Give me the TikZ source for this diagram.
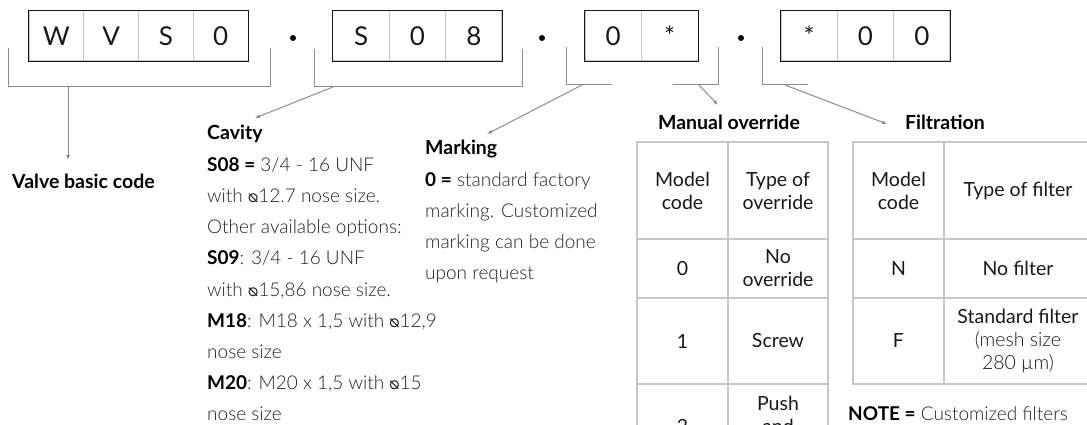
\documentclass[tikz,border=0pt]{standalone}
\usepackage{fontspec}
\usepackage{graphicx}
\setmainfont{Lato}[UprightFont=* Light, BoldFont=* Bold]
\newfontfamily\regfont{Lato}
\newfontfamily\symfont{DejaVu Sans}
\usetikzlibrary{arrows.meta,positioning}

\definecolor{bodygray}{HTML}{222222}
\definecolor{linegray}{HTML}{8C8C8C}
\definecolor{gridgray}{HTML}{C6C6C6}

\newcommand{\keyw}[1]{\textcolor{black}{\textbf{#1}}}
\newcommand{\dia}{{\symfont\scalebox{0.9}{\reflectbox{⌀}}}}
\newcommand{\lowstar}{\raisebox{-5pt}{*}}

\tikzset{
    code cell/.style={draw=gridgray, line width=1pt, minimum height=50pt, minimum width=#1, inner sep=0pt, text=black!90, font=\regfont\fontsize{26}{30}\selectfont},
    code cell/.default=55pt,
    code frame/.style={draw=black!90, line width=1.3pt},
    sep dot/.style={circle, fill=black, inner sep=0pt, minimum size=6pt},
    bracket/.style={draw=linegray, line width=1pt},
    pointer/.style={bracket, -{Latex[length=5pt,width=4pt]}},
    head text/.style={anchor=base west, inner sep=0pt, font=\bfseries\fontsize{19.5}{31}\selectfont},
    body text/.style={anchor=base west, inner sep=0pt, text=bodygray, font=\fontsize{19}{31}\selectfont},
    tab cell/.style={draw=gridgray, line width=1.3pt, align=center, inner sep=0pt, text=black!90, font=\regfont\fontsize{19.5}{23}\selectfont}
}

\begin{document}
\begin{tikzpicture}[x=1pt, y=-1pt]
\useasboundingbox (0,0) rectangle (1087,425);
\clip (0,0) rectangle (1087,425);

% code boxes
\foreach \ch [count=\i] in {W,V,S,0}
    \node[code cell=54.75pt] (vb\i) at (29+54.75*\i-27.375, 36) {\ch};
\draw[code frame] (vb1.north west) rectangle (vb4.south east);
\foreach \ch [count=\i] in {S,0,8}
    \node[code cell=56.33pt] (cv\i) at (333+56.33*\i-28.17, 36) {\ch};
\draw[code frame] (cv1.north west) rectangle (cv3.south east);
\foreach \ch [count=\i] in {0,\lowstar}
    \node[code cell=56.5pt] (mo\i) at (585+56.5*\i-28.25, 36) {\ch};
\draw[code frame] (mo1.north west) rectangle (mo2.south east);
\foreach \ch [count=\i] in {\lowstar,0,0}
    \node[code cell=56.33pt] (fl\i) at (781+56.33*\i-28.17, 36) {\ch};
\draw[code frame] (fl1.north west) rectangle (fl3.south east);

\node[sep dot] (dot1) at (293,38) {};
\node[sep dot] (dot2) at (542,38) {};
\node[sep dot] (dot3) at (741,38) {};

% brackets and pointers
\coordinate (vbl) at (8,48);
\coordinate (vbr) at (270,48);
\coordinate (vbs) at (68,87);
\coordinate (vbt) at (68,160);
\draw[bracket] (vbl) -- ++(0,39) -| (vbr);
\draw[pointer] (vbs) -- (vbt);

\coordinate (cvl) at (314,49);
\coordinate (cvr) at (522,49);
\coordinate (cvs) at (333,87);
\coordinate (cvt) at (255,118);
\draw[bracket] (cvl) -- ++(0,38) -| (cvr);
\draw[pointer] (cvs) -- (cvt);

\coordinate (mkl) at (566,47);
\coordinate (mks) at (582,85);
\coordinate (mkt) at (487,134);
\draw[bracket] (mkl) -- ++(0,38) -- ++(46,0);
\draw[pointer] (mks) -- (mkt);

\coordinate (mor) at (718,47);
\coordinate (mos) at (699,85);
\coordinate (mot) at (718,105);
\draw[bracket] (mor) -- ++(0,38) -- ++(-45,0);
\draw[pointer] (mos) -- (mot);

\coordinate (fll) at (762,47);
\coordinate (fls) at (785,85);
\coordinate (flt) at (887,124);
\draw[bracket] (fll) -- ++(0,38) -- ++(46,0);
\draw[pointer] (fls) -- (flt);

% descriptions
\node[head text] (valve) at (12,189) {Valve basic code};

\node[head text] (cavity) at (207,140) {Cavity};
\foreach \txt [count=\i] in {{\keyw{S08 =} 3/4 - 16 UNF},
        {with \dia12.7 nose size.},
        {Other available options:},
        {\keyw{S09}: 3/4 - 16 UNF},
        {with \dia15,86 nose size.},
        {\keyw{M18}: M18 x 1,5 with \dia12,9},
        {nose size},
        {\keyw{M20}: M20 x 1,5 with \dia15},
        {nose size}}
    \node[body text] (cav\i) at (207,140+31.2*\i) {\txt};

\node[head text] (marking) at (425,155) {Marking};
\foreach \txt [count=\i] in {{\keyw{0 =} standard factory},
        {marking. Customized},
        {marking can be done},
        {upon request}}
    \node[body text] (mark\i) at (425,155+31.2*\i) {\txt};

% manual override table
\node[head text, anchor=base] (motitle) at (729,130) {Manual override};
\node[tab cell, minimum width=91pt, minimum height=97pt] (mt11) at (682.5,190.5) {Model\\code};
\node[tab cell, minimum width=100pt, minimum height=97pt] (mt12) at (778,190.5) {Type of\\override};
\node[tab cell, minimum width=91pt, minimum height=59pt] (mt21) at (682.5,268.5) {0};
\node[tab cell, minimum width=100pt, minimum height=59pt] (mt22) at (778,268.5) {No\\override};
\node[tab cell, minimum width=91pt, minimum height=86pt] (mt31) at (682.5,341) {1};
\node[tab cell, minimum width=100pt, minimum height=86pt] (mt32) at (778,341) {Screw};
\node[tab cell, minimum width=91pt, minimum height=84pt] (mt41) at (682.5,426) {2};
\node[tab cell, minimum width=100pt, minimum height=84pt] (mt42) at (778,426) {Push\\and\\\mbox{}};

% filtration table
\node[head text, anchor=base] (fltitle) at (945,130) {Filtration};
\node[tab cell, minimum width=91pt, minimum height=97pt] (ft11) at (898.5,190.5) {Model\\code};
\node[tab cell, minimum width=148pt, minimum height=97pt] (ft12) at (1018,190.5) {Type of filter};
\node[tab cell, minimum width=91pt, minimum height=59pt] (ft21) at (898.5,268.5) {N};
\node[tab cell, minimum width=148pt, minimum height=59pt] (ft22) at (1018,268.5) {No filter};
\node[tab cell, minimum width=91pt, minimum height=86pt] (ft31) at (898.5,341) {F};
\node[tab cell, minimum width=148pt, minimum height=86pt] (ft32) at (1018,341) {Standard filter\\\normalfont(mesh size\\\normalfont280 µm)};

\node[body text] (note) at (848,420) {\keyw{NOTE =} Customized filters};
\end{tikzpicture}
\end{document}
